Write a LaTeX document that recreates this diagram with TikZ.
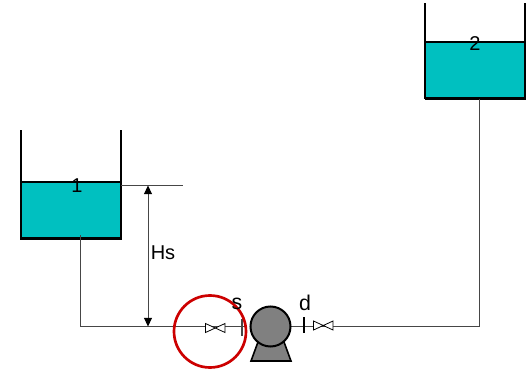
\documentclass[tikz,border=0pt]{standalone}
\usepackage{fontspec}
\setmainfont{Liberation Sans}
\usetikzlibrary{arrows.meta}
\definecolor{liquid}{RGB}{0,192,192}
\definecolor{ringred}{RGB}{204,0,0}
\definecolor{pumpgray}{RGB}{128,128,128}
\definecolor{pipegray}{RGB}{70,70,70}
\tikzset{
  pipe/.style={draw=pipegray,line width=0.6pt},
  wall/.style={draw=black,line width=1.6pt},
  tanktext/.style={font=\fontsize{15}{17}\selectfont,inner sep=0pt,text=black},
  dimline/.style={draw=pipegray,line width=0.6pt,{Triangle[length=6.5pt,width=6pt,fill=black,color=black]}-{Triangle[length=6.5pt,width=6pt,fill=black,color=black]}},
  valvepart/.style={draw=black,line width=0.6pt,fill=white},
  tickline/.style={line width=0.9pt},
}
\begin{document}
\begin{tikzpicture}[x=0.75pt,y=-0.75pt]
\useasboundingbox (0,0) rectangle (529,371);
% tank 1
\fill[liquid] (21,182) rectangle (121,238);
\draw[wall] (21,130) -- (21,238.5) -- (121,238.5) -- (121,130);
\draw[black,line width=0.9pt] (21,182) -- (121,182);
% tank 2
\fill[liquid] (425,42) rectangle (525,99);
\draw[black,line width=1pt] (425,3) -- (425,99);
\draw[black,line width=1pt] (525,3) -- (525,99);
\draw[wall] (424.5,98.5) -- (525.5,98.5);
\draw[black,line width=1.2pt] (425,42) -- (525,42);
% named anchors
\coordinate (t1out) at (80,235);
\coordinate (c1) at (80,326);
\coordinate (suctionEnd) at (246,326);
\coordinate (t2out) at (479,99);
\coordinate (c2) at (479,326);
\coordinate (levelL) at (121,185);
\coordinate (levelR) at (183,185);
\coordinate (hsTop) at (148,185.5);
\coordinate (hsBot) at (148,326.5);
% pipes
\draw[pipe] (t1out) -- (c1) -- (suctionEnd);
\draw[pipe] (t2out) -- (c2) -- (285,326);
\draw[pipe] (levelL) -- (levelR);
\draw[dimline] (hsTop) -- (hsBot);
% ticks
\draw[pipegray,tickline] (242,319) -- (242,336);
\draw[black,tickline] (304,317) -- (304,333);
% valves
\draw[valvepart] (205.5,323.5) -- (205.5,332.5) -- (225,323.5) -- (225,332.5) -- cycle;
\draw[valvepart] (313.5,321) -- (313.5,330) -- (333,321) -- (333,330) -- cycle;
% pump
\filldraw[fill=pumpgray,draw=black,line width=1.2pt] (258,342) -- (251,361) -- (291,361) -- (284,342) -- cycle;
\node[circle,minimum size=30pt,inner sep=0pt,fill=pumpgray,draw=black,line width=1.5pt] (pump) at (270.5,326.5) {};
% ring
\node[circle,minimum size=54pt,inner sep=0pt,draw=ringred,line width=2pt] (ring) at (210,331.5) {};
% labels
\node[tanktext] (one) at (77,186) {1};
\node[tanktext] (two) at (475,43.5) {2};
\node[tanktext] (hs) at (163,253) {Hs};
\node[tanktext,font=\fontsize{16}{18}\selectfont] (s) at (237,304) {s};
\node[tanktext,font=\fontsize{16}{18}\selectfont] (d) at (305,303) {d};
\end{tikzpicture}
\end{document}
